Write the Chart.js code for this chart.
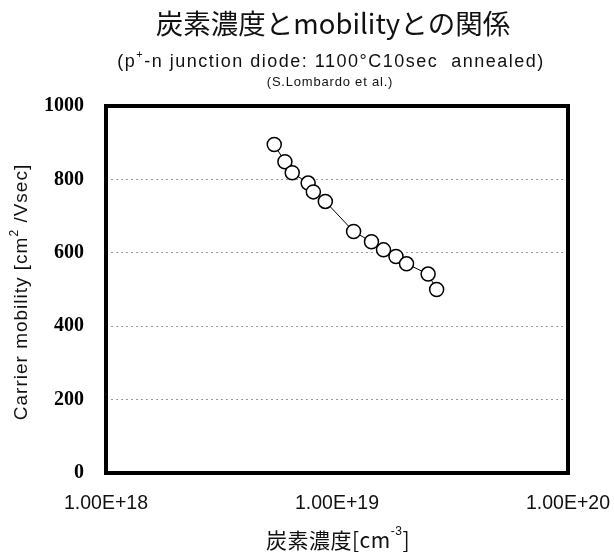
<!DOCTYPE html>
<html>
<head>
<meta charset="utf-8">
<script src="https://cdn.jsdelivr.net/npm/chart.js@4/dist/chart.umd.min.js"></script>
<style>
  html, body { margin: 0; padding: 0; background: #fff; }
  #wrap { width: 614px; height: 552px; position: relative; }
</style>
</head>
<body>
<div id="wrap"><canvas id="c" width="614" height="552"></canvas></div>
<script>
// Carbon concentration [cm^-3] and measured carrier mobility [cm^2/Vsec]
const carbonConc = [5.35e18, 5.95e18, 6.4e18, 7.5e18, 7.9e18, 8.9e18, 1.18e19, 1.41e19, 1.59e19, 1.8e19, 2.0e19, 2.48e19, 2.7e19];
const mobility   = [895, 848, 818, 790, 766, 740, 658, 630, 608, 590, 570, 542, 500];

// Axis ticks
const xTickValues = [1e18, 1e19, 1e20];
const xTickLabels = ['1.00E+18', '1.00E+19', '1.00E+20'];
const yTickValues = [0, 200, 400, 600, 800, 1000];
const yTickLabels = ['0', '200', '400', '600', '800', '1000'];

// Text
const titleText = '炭素濃度とmobilityとの関係';
const subtitleParts = [['(p', false], ['+', true], ['-n junction diode: 1100°C10sec  annealed)', false]];
const sourceText = '(S.Lombardo et al.)';
const yTitleParts = [['Carrier mobility [cm', false], ['2', true], [' /Vsec]', false]];
const xTitleParts = [['炭素濃度[cm', false], ['-3', true], [']', false]];

// draw a line of text with superscript pieces, centred at (cx, cy)
function drawRich(ctx, parts, cx, cy, font, supFont, supRise, spacing) {
  ctx.letterSpacing = (spacing || 0) + 'px';
  let total = 0;
  const widths = parts.map(([t, sup]) => {
    ctx.font = sup ? supFont : font;
    const w = ctx.measureText(t).width;
    total += w;
    return w;
  });
  let x = cx - total / 2;
  ctx.textAlign = 'left';
  ctx.textBaseline = 'middle';
  parts.forEach(([t, sup], i) => {
    ctx.font = sup ? supFont : font;
    ctx.fillText(t, x, sup ? cy - supRise : cy);
    x += widths[i];
  });
  ctx.letterSpacing = '0px';
}

const decor = {
  id: 'decor',
  afterDatasetsDraw(chart) {
    const ctx = chart.ctx;
    const a = chart.chartArea;
    ctx.save();
    // heavy frame around the plot area
    ctx.strokeStyle = '#000';
    ctx.lineWidth = 4;
    ctx.strokeRect(a.left, a.top, a.right - a.left, a.bottom - a.top);
    ctx.restore();
  },
  afterDraw(chart) {
    const ctx = chart.ctx;
    ctx.save();
    ctx.fillStyle = '#111';
    ctx.textAlign = 'center';
    ctx.textBaseline = 'middle';
    ctx.font = '27.5px "Noto Sans CJK JP"';
    ctx.fillText(titleText, 333, 24);

    drawRich(ctx, subtitleParts, 331, 62, '18px "Liberation Sans"', '11px "Liberation Sans"', 7, 1.5);

    drawRich(ctx, [[sourceText, false]], 330, 82, '13px "Liberation Sans"', '13px "Liberation Sans"', 0, 0.8);

    drawRich(ctx, xTitleParts, 338, 540, '21px "Noto Sans CJK JP"', '12px "Liberation Sans"', 8, 0.5);

    ctx.translate(22, 292);
    ctx.rotate(-Math.PI / 2);
    drawRich(ctx, yTitleParts, 0, 0, '19px "Liberation Sans"', '12px "Liberation Sans"', 7, 1);
    ctx.restore();
  }
};

new Chart(document.getElementById('c'), {
  type: 'scatter',
  data: {
    datasets: [{
      data: carbonConc.map((x, i) => ({ x: x, y: mobility[i] })),
      showLine: true,
      borderColor: '#000',
      borderWidth: 1,
      pointRadius: 7,
      pointBorderWidth: 1.5,
      pointBorderColor: '#000',
      pointBackgroundColor: '#fff',
      pointStyle: 'circle'
    }]
  },
  options: {
    responsive: false,
    animation: false,
    devicePixelRatio: 1,
    layout: { padding: { top: 106, right: 46, left: 0, bottom: 0 } },
    plugins: { legend: { display: false }, tooltip: { enabled: false }, title: { display: false } },
    scales: {
      x: {
        type: 'logarithmic',
        min: 1e18,
        max: 1e20,
        afterBuildTicks: (s) => { s.ticks = xTickValues.map(v => ({ value: v })); },
        afterFit: (s) => { s.height = 79; s.paddingLeft = 0; s.paddingRight = 0; },
        ticks: {
          autoSkip: false,
          maxRotation: 0,
          padding: 19,
          color: '#111',
          font: { family: 'Liberation Sans', size: 19.5 },
          callback: (v) => xTickLabels[xTickValues.indexOf(v)] ?? ''
        },
        grid: { display: false, drawTicks: false },
        border: { display: false }
      },
      y: {
        min: 0,
        max: 1000,
        afterBuildTicks: (s) => { s.ticks = yTickValues.map(v => ({ value: v })); },
        afterFit: (s) => { s.width = 106; s.paddingTop = 0; s.paddingBottom = 0; },
        ticks: {
          padding: 22,
          color: '#000',
          font: { family: 'Liberation Serif', size: 20, weight: 'bold' },
          callback: (v) => yTickLabels[yTickValues.indexOf(v)] ?? ''
        },
        grid: {
          drawTicks: false,
          lineWidth: 1,
          color: (c) => (c.tick && c.tick.value > 0 && c.tick.value < 1000) ? '#9a9a9a' : 'rgba(0,0,0,0)'
        },
        border: { display: false, dash: [2, 3] }
      }
    }
  },
  plugins: [decor]
});
</script>
</body>
</html>
